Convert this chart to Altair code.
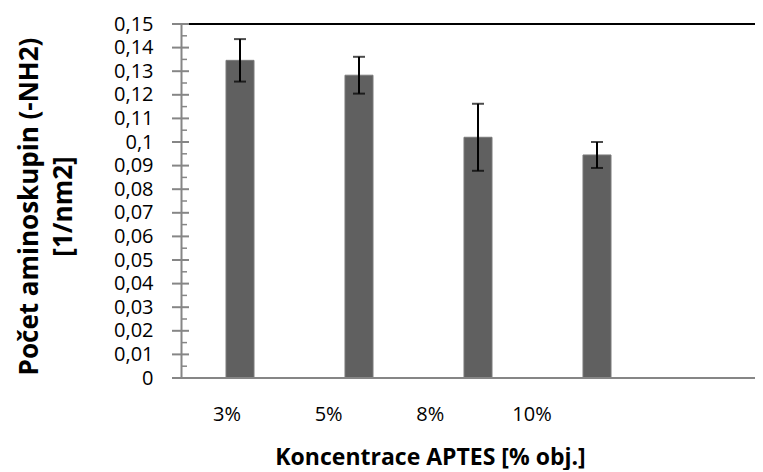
import altair as alt
import pandas as pd

categories = ["3%", "5%", "8%", "10%"]
means = [0.1346, 0.1283, 0.1020, 0.0945]
errors = [0.0090, 0.0078, 0.0142, 0.0055]
major_ticks = [0.00, 0.01, 0.02, 0.03, 0.04, 0.05, 0.06, 0.07, 0.08, 0.09, 0.10, 0.11, 0.12, 0.13, 0.14, 0.15]
minor_ticks = [0.005, 0.015, 0.025, 0.035, 0.045, 0.055, 0.065, 0.075, 0.085, 0.095, 0.105, 0.115, 0.125, 0.135, 0.145]

W, H = 574, 354
FONT = "Open Sans"
GRAY = "#868686"

df = pd.DataFrame({"cat": categories, "mean": means, "err": errors})
df["low"] = df["mean"] - df["err"]
df["high"] = df["mean"] + df["err"]

yscale = alt.Scale(domain=[0, 0.15], nice=False, zero=True)
xscale = alt.Scale(domain=categories, range=[45, 430], paddingInner=0.7647, paddingOuter=0)

xaxis = alt.Axis(labels=False, ticks=False, tickSize=0, domain=False,
                 title="Koncentrace APTES [% obj.]",
                 titleFont=FONT, titleFontSize=23, titleFontWeight="bold",
                 titleColor="#000000", titleX=249, titleY=86,
                 titleBaseline="alphabetic", titleAnchor="start", titleAlign="center")

yaxis = alt.Axis(values=major_ticks, ticks=False, tickSize=0, grid=False,
                 domainColor=GRAY, domainWidth=2, labelOverlap=False,
                 labelExpr="replace(format(datum.value, '.2~f'), '.', ',')",
                 labelFont=FONT, labelFontSize=20, labelColor="#000000",
                 labelPadding=28, labelBaseline="middle",
                 title=["Počet aminoskupin (-NH2)", "[1/nm2]"],
                 titleFont=FONT, titleFontSize=26, titleFontWeight="bold",
                 titleColor="#000000", titleAngle=-90, titleX=-152, titleY=182,
                 titleBaseline="middle", titleLineHeight=34, titleAlign="center")

def xe():
    return alt.X("cat:N", scale=xscale, sort=categories, axis=xaxis)

def ye(field):
    return alt.Y(field, scale=yscale, axis=yaxis)

base = alt.Chart(df)

bars = base.mark_bar(color="#606060", stroke="#7a7a7a", strokeWidth=1).encode(x=xe(), y=ye("mean:Q"))

err_rule = base.mark_rule(color="#000000", strokeWidth=2).encode(
    x=xe(), y=ye("low:Q"), y2="high:Q")

cap_lo = base.mark_tick(color="#000000", thickness=2, size=12).encode(x=xe(), y=ye("low:Q"))
cap_hi = base.mark_tick(color="#000000", thickness=2, size=12).encode(x=xe(), y=ye("high:Q"))

xaxis_line = alt.Chart(pd.DataFrame({"t": [0.0]})).mark_rule(color=GRAY, strokeWidth=2).encode(
    x=alt.value(0), x2=alt.value(W), y=ye("t:Q"))

major = alt.Chart(pd.DataFrame({"t": major_ticks})).mark_rule(color=GRAY, strokeWidth=2).encode(
    x=alt.value(-9), x2=alt.value(8), y=ye("t:Q"))
minor = alt.Chart(pd.DataFrame({"t": minor_ticks})).mark_rule(color=GRAY, strokeWidth=1.5).encode(
    x=alt.value(0), x2=alt.value(6), y=ye("t:Q"))

top_line = alt.Chart(pd.DataFrame({"t": [0.15]})).mark_rule(color="#000000", strokeWidth=2).encode(
    x=alt.value(8), x2=alt.value(W), y=ye("t:Q"))

labels = alt.Chart(pd.DataFrame({"cat": categories})).mark_text(
    font=FONT, fontSize=20, color="#000000", baseline="middle", align="center").encode(
    x=alt.X("cat:N", sort=categories,
            scale=alt.Scale(type="point", domain=categories, range=[46, 351], padding=0),
            axis=None),
    y=alt.value(H + 36.5),
    text="cat:N")

main = alt.layer(bars, err_rule, cap_lo, cap_hi, xaxis_line, major, minor, top_line)

chart = alt.layer(main, labels).resolve_scale(x="independent").properties(
    width=W, height=H,
    autosize=alt.AutoSizeParams(type="none"),
    padding={"left": 173, "top": 16, "right": 0, "bottom": 92},
).configure_view(stroke=None).configure(font=FONT).configure_axisY(labelOverlap=False)

chart.save("out.html", embed_options={"renderer": "svg", "actions": False})
